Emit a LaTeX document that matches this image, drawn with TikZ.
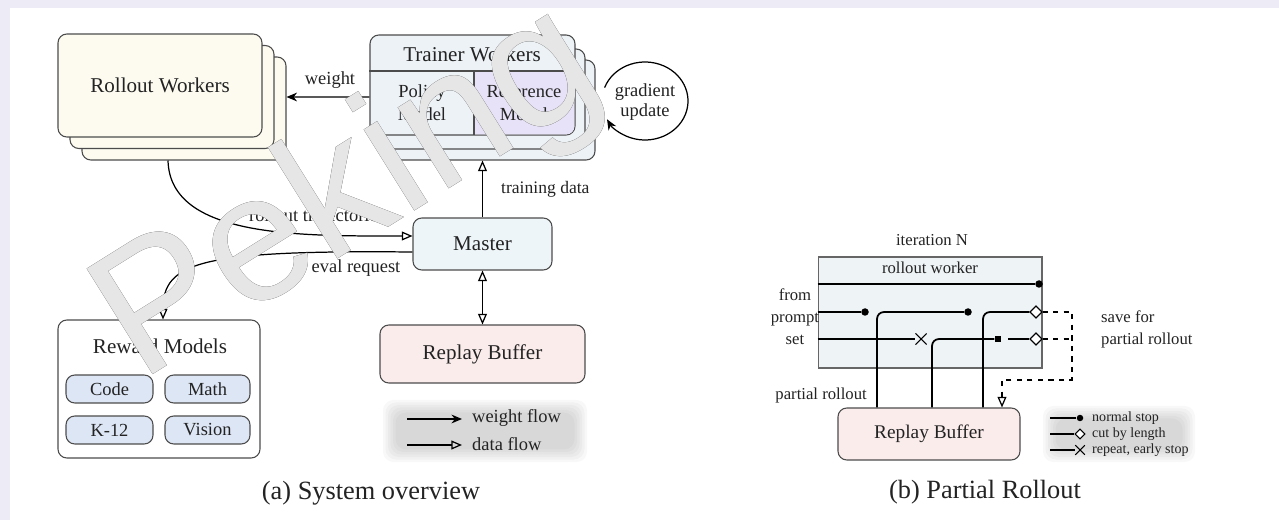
\documentclass[tikz,border=0pt]{standalone}
\usepackage{fontspec}
\setmainfont{Liberation Serif}
\newfontfamily\wmfont{Liberation Sans}
\usepackage{pdfrender}
\usetikzlibrary{arrows.meta,shapes.geometric,shapes.misc,calc}
\definecolor{bandc}{RGB}{236,235,246}
\definecolor{cream}{RGB}{253,251,240}
\definecolor{tblue}{RGB}{237,242,247}
\definecolor{lav}{RGB}{232,226,248}
\definecolor{mblue}{RGB}{238,245,248}
\definecolor{pinkc}{RGB}{251,236,236}
\definecolor{rmblue}{RGB}{221,230,245}
\definecolor{rwblue}{RGB}{238,243,246}
\definecolor{ink}{RGB}{35,35,35}
\tikzset{
  bx/.style={draw=black!70, line width=0.6pt, rounded corners=5pt, inner sep=0pt},
  wflow/.style={-{Stealth[length=6pt,width=5pt]}, line width=0.7pt},
  dflow/.style={-{Triangle[open,length=6pt,width=5pt]}, line width=0.7pt},
  dflowb/.style={{Triangle[open,length=6pt,width=5pt]}-{Triangle[open,length=6pt,width=5pt]}, line width=0.7pt},
  traj/.style={line width=1pt},
  dotm/.style={circle, fill=black, inner sep=0pt, minimum size=0.15cm},
  diam/.style={diamond, draw, fill=white, line width=0.6pt, inner sep=0pt, minimum size=0.24cm},
  sqm/.style={rectangle, fill=black, inner sep=0pt, minimum size=0.13cm},
  crossm/.style={cross out, draw, inner sep=0pt, minimum size=0.2cm, line width=0.6pt},
  f12/.style={font=\fontsize{12}{14}\selectfont},
  f105/.style={font=\fontsize{10.5}{13}\selectfont},
  f95/.style={font=\fontsize{9.5}{12.5}\selectfont},
  f8/.style={font=\fontsize{8}{9}\selectfont},
  f15/.style={font=\fontsize{15}{17}\selectfont},
  wm/.style={rotate=32, inner sep=0pt, font=\wmfont\fontsize{103}{103}\selectfont},
}
\begin{document}
\begin{tikzpicture}[x=0.02cm,y=-0.02cm, text=ink]
\useasboundingbox (0,0) rectangle (1279,520);
\fill[white] (0,0) rectangle (1279,520);
\fill[bandc] (0,0) rectangle (1279,8);
\fill[bandc] (0,0) rectangle (10,520);

% ---------- (a) ----------
% Rollout workers stack
\node[bx, fill=cream, minimum width=4.08cm, minimum height=2.06cm] (rw3) at (184,108.5) {};
\node[bx, fill=cream, minimum width=4.08cm, minimum height=2.06cm] (rw2) at (172,97) {};
\node[bx, fill=cream, minimum width=4.08cm, minimum height=2.06cm, f12] (rw) at (160,85.5) {Rollout Workers};

% Trainer workers stack
\node[bx, fill=tblue, minimum width=4.1cm, minimum height=2.0cm] (tw3) at (492.5,110) {};
\node[bx, fill=tblue, minimum width=4.1cm, minimum height=2.0cm] (tw2) at (482.5,99) {};
\node[bx, fill=tblue, minimum width=4.1cm, minimum height=2.0cm] (tw) at (472.5,85) {};
\fill[lav] (474.5,71.5) -- (574.4,71.5) [rounded corners=4.5pt] -- (574.4,134.4) [sharp corners] -- (474.5,134.4) -- cycle;
\draw[black!70, line width=0.6pt] (tw.west |- 0,71) -- (tw.east |- 0,71);
\draw[black!70, line width=0.6pt] (474,71) -- (474,135);
\node[f12] (twt) at (472,54) {Trainer Workers};
\node[f105, align=center] (pm) at (422,103) {Policy\\Model};
\node[f105, align=center] (rm) at (524,103) {Reference\\Model};

% gradient update loop
\coordinate (gc) at (645,101);
\node[f105, align=center, font=\fontsize{10.5}{11}\selectfont] (gu) at (645,102) {gradient\\update};
\draw[wflow] ($(gc)+(200:43 and 39)$) arc[start angle=200, end angle=512, x radius=43, y radius=39];

% weight arrow
\draw[wflow] ([yshift=-0.24cm]tw.west) -- ([yshift=0.23cm]rw3.east);
\node[f105] (wl) at (330,80) {weight};

% Master
\node[bx, fill=mblue, minimum width=2.78cm, minimum height=1.04cm, f12] (ms) at (482.5,244) {Master};

% training data
\draw[dflow] (ms.north) -- (ms.north |- tw3.south);
\node[f105, anchor=west, font=\fontsize{10}{12}\selectfont] (tdl) at (495,189) {training data};

% Replay buffer (a)
\node[bx, fill=pinkc, minimum width=4.1cm, minimum height=1.16cm, f12] (rb) at (482.5,354) {Replay Buffer};
\draw[dflowb] (ms.south) -- (rb.north);

% Reward models
\node[bx, fill=white, minimum width=4.04cm, minimum height=2.76cm] (rmb) at (159,389) {};
\node[f12] (rmt) at (160,346) {Reward Models};
\node[bx, fill=rmblue, minimum width=1.74cm, minimum height=0.56cm, f105] (code) at (109.5,389) {Code};
\node[bx, fill=rmblue, minimum width=1.70cm, minimum height=0.56cm, f105] (math) at (207.5,389) {Math};
\node[bx, fill=rmblue, minimum width=1.74cm, minimum height=0.56cm, f105] (k12) at (109.5,430) {K-12};
\node[bx, fill=rmblue, minimum width=1.70cm, minimum height=0.56cm, f105] (vis) at (207.5,430) {Vision};

% rollout trajectories
\draw[dflow] ([xshift=-0.32cm]rw3.south) .. controls (170,238) and (300,236) .. ([yshift=0.16cm]ms.west);
\node[f105] (rtl) at (317,217) {rollout trajectories};

% eval request
\draw[dflow] ([yshift=-0.16cm]ms.west) .. controls (200,250) and (163,262) .. (rmb.north -| 163,0);
\node[f105] (erl) at (356,268) {eval request};

% legend (a)
\node[minimum width=4.0cm, minimum height=1.16cm] (lga) at (485,431) {};
\foreach \i in {0,...,5} \fill[gray, opacity=0.055, rounded corners=6pt] (383+\i*2.5,400+\i*2.5) rectangle (587-\i*2.5,462-\i*2.5);
\node[f105, anchor=west] (lt1) at (466,418) {weight flow};
\node[f105, anchor=west] (lt2) at (466,444) {data flow};
\coordinate (la1) at (407,419);
\coordinate (la2) at (407,445);
\draw[wflow] (la1) -- ([xshift=-0.08cm]la1 -| lt1.west);
\draw[dflow] (la2) -- ([xshift=-0.08cm]la2 -| lt2.west);

\node[f15] (capa) at (371,493) {(a) System overview};

% ---------- (b) ----------
\node[f95] (itn) at (932,240) {iteration N};
\node[draw=black!60, line width=0.6pt, fill=rwblue, minimum width=4.48cm, minimum height=2.22cm, inner sep=0pt] (rwb) at (930,312.5) {};
\node[f95] (rwt) at (930,268) {rollout worker};
\node[bx, fill=pinkc, minimum width=3.64cm, minimum height=1.04cm, font=\fontsize{11}{13}\selectfont] (rbb) at (929,434) {Replay Buffer};

\coordinate (c1) at (877,312);
\coordinate (c2) at (983,312);
\coordinate (c3) at (932,339);
\coordinate (c4) at (1008,339);
\coordinate (c5) at (1072,312);
\coordinate (c6) at (1072,380);
\coordinate (c7) at (1002,380);

\node[dotm] (d1) at (1039,284) {};
\node[dotm] (d2) at (865,312) {};
\node[dotm] (d3) at (968,312) {};
\node[diam] (q1) at (1036,312) {};
\node[crossm] (x1) at (921,339) {};
\node[sqm] (s1) at (998,339) {};
\node[diam] (q2) at (1036,339) {};

\draw[traj] (rwb.west |- d1) -- (d1);
\draw[traj] (rwb.west |- d2) -- (d2);
\draw[traj, rounded corners=4pt] (rbb.north -| c1) -- (c1) -- (d3);
\draw[traj, rounded corners=4pt] (rbb.north -| c2) -- (c2) -- (q1);
\draw[traj] (rwb.west |- x1) -- (x1);
\draw[traj, rounded corners=4pt] (rbb.north -| c3) -- (c3) -- (s1);
\draw[traj] (c4) -- (q2);
\draw[dashed, line width=0.7pt] (q2) -- (q2 -| c5);
\draw[dashed, line width=0.7pt, -{Triangle[open,length=6pt,width=5pt]}] (q1) -- (c5) -- (c6) -- (c7) -- (rbb.north -| c7);
\node[diam] at (q1) {};
\node[diam] at (q2) {};

\node[f95, align=center] (fps) at (795,317) {from\\prompt\\set};
\node[f95, anchor=east] (prl) at (873,395) {partial rollout};
\node[f95, align=left, anchor=west] (sfp) at (1095,329) {save for\\partial rollout};

% legend (b)
\node[minimum width=2.96cm, minimum height=1.04cm] (lgb) at (1119,434) {};
\foreach \i in {0,...,5} \fill[gray, opacity=0.055, rounded corners=6pt] (1043+\i*2.5,406+\i*2.5) rectangle (1195-\i*2.5,462-\i*2.5);
\node[dotm, minimum size=0.13cm] (m1) at (1080,418) {};
\node[diam, minimum size=0.2cm] (m2) at (1080,434) {};
\node[crossm, minimum size=0.17cm] (m3) at (1080,450) {};
\coordinate (e1) at (1050,418);
\coordinate (e2) at (1050,434);
\coordinate (e3) at (1050,450);
\draw[line width=0.8pt] (e1) -- (m1);
\draw[line width=0.8pt] (e2) -- (m2);
\draw[line width=0.8pt] (e3) -- (m3);
\node[f8, anchor=west] (l1) at (1086,418) {normal stop};
\node[f8, anchor=west] (l2) at (1086,434) {cut by length};
\node[f8, anchor=west] (l3) at (1086,450) {repeat, early stop};

\node[f15] (capb) at (985,492) {(b) Partial Rollout};

% watermark: outline pass, then white fill pass
\node[wm, text=black] (wmo) at (350,196)
  {\textpdfrender{TextRenderingMode=Stroke,LineWidth=1.7pt}{Peking}};
\node[wm, text=white, opacity=0.9] (wmf) at (350,196) {Peking};
\end{tikzpicture}
\end{document}
